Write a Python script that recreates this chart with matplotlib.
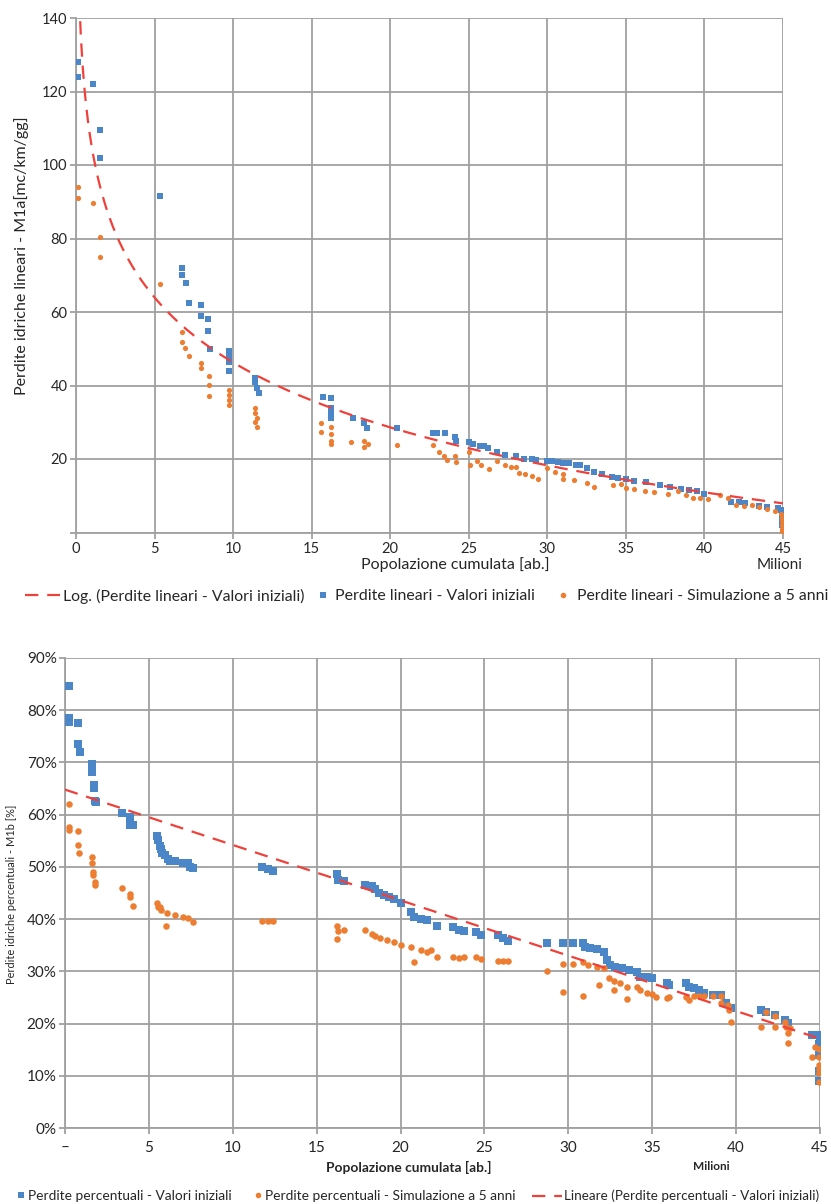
import matplotlib
matplotlib.use("Agg")
import matplotlib.pyplot as plt
import numpy as np
from matplotlib.lines import Line2D
from matplotlib.ticker import FuncFormatter

# ---------------- DATA ----------------
# Top chart: Perdite lineari (M1a) vs popolazione cumulata [milioni]
lin_ini_x = [0.13, 0.13, 1.1, 1.5, 1.5, 5.35, 6.75, 6.75, 7.0, 7.2, 7.96, 7.96, 8.4, 8.4, 8.5,
             9.75, 9.75, 9.75, 9.75, 11.4, 11.4, 11.5, 11.65, 15.7, 16.2, 16.2, 16.2, 16.2,
             17.6, 18.3, 18.5, 20.4, 22.7, 23.0, 23.5, 24.1, 24.2, 25.0, 25.3, 25.7, 26.0, 26.2,
             26.8, 27.3, 28.0, 28.5, 29.0, 29.3, 30.0, 30.3, 30.7, 31.0, 31.4, 31.8, 32.1, 32.5,
             33.0, 33.5, 34.1, 34.5, 35.0, 35.5, 36.3, 37.2, 37.8, 38.5, 39.0, 39.5, 40.0,
             41.7, 42.2, 42.6, 43.5, 44.0, 44.7, 44.9, 44.95, 44.95, 44.95]
lin_ini_y = [128, 124, 122, 109.5, 102, 91.5, 72, 70, 68, 62.5, 62, 59, 58, 54.7, 50,
             49.4, 48, 46.4, 44, 42, 41, 39.3, 38, 37, 36.5, 34, 32.5, 31.2,
             31.2, 29.8, 28.5, 28.4, 27, 27, 27, 26, 24.9, 24.6, 24, 23.5, 23.5, 23,
             22, 21, 20.8, 20, 20, 19.8, 19.5, 19.5, 19.3, 19, 19, 18.5, 18.3, 17.5,
             16.5, 16, 15.2, 14.8, 14.5, 14, 13.7, 12.9, 12.3, 11.8, 11.5, 11.2, 10.5,
             8.3, 8.3, 8, 7.3, 7, 6.8, 6, 4.5, 3, 2]

lin_sim_x = [0.13, 0.13, 1.1, 1.5, 1.5, 5.35, 6.74, 6.74, 6.95, 7.2, 7.96, 7.96, 8.46, 8.46, 8.46,
             9.75, 9.75, 9.75, 9.75, 11.4, 11.4, 11.5, 11.4, 11.5, 15.6, 15.6, 16.2, 16.2, 16.2,
             16.2, 17.5, 18.3, 18.3, 18.6, 20.4, 22.7, 23.1, 23.4, 23.6, 24.1, 24.2, 25.0, 25.1,
             25.5, 25.8, 26.3, 26.8, 27.3, 27.7, 28.0, 28.2, 28.6, 29.0, 29.4, 30.0, 30.5, 31.0,
             31.0, 31.7, 32.5, 33.0, 34.2, 34.7, 35.0, 35.5, 36.2, 36.8, 37.7, 38.3, 38.8, 39.3,
             39.7, 40.2, 41.0, 41.5, 42.0, 42.5, 43.0, 43.5, 44.0, 44.5, 44.9, 44.95, 44.95,
             44.95, 44.95, 44.95]
lin_sim_y = [94, 91, 89.7, 80.5, 75, 67.6, 54.6, 51.9, 50.2, 48, 46.2, 44.8, 42.6, 40.2, 37.2,
             38.8, 37.4, 36, 34.7, 33.9, 32.5, 31.2, 30, 28.7, 29.8, 27.3, 28.7, 26.8, 25,
             24, 24.6, 24.8, 23.3, 24, 23.8, 23.8, 22, 20.7, 19.7, 20.7, 19.3, 22, 18.5,
             19.5, 18.5, 17.3, 19.5, 18.3, 17.7, 17.7, 16.2, 15.8, 15.5, 14.5, 17.5, 16.5, 15.8,
             14.5, 14.3, 13.4, 12.5, 12.8, 13.2, 12, 11.8, 11.4, 11, 10.5, 11.4, 10.2, 9.5,
             9.3, 9, 10.2, 9.3, 7.5, 7.2, 7.4, 7, 6.3, 5.8, 5, 4, 3,
             2, 1, 0.5]

# Log trendline: y = A*ln(x) + B
log_a, log_b = -25.5, 105.0

# Bottom chart: Perdite percentuali (M1b) [%]
pct_ini_x = [0.24, 0.24, 0.24, 0.77, 0.77, 0.9, 1.6, 1.6, 1.75, 1.75, 1.8, 1.85, 3.4, 3.9, 3.9, 4.05,
             5.5, 5.55, 5.65, 5.7, 5.8, 5.97, 6.15, 6.27, 6.57, 7.05, 7.35, 7.46, 7.62,
             11.75, 12.1, 12.4, 16.2, 16.3, 16.6, 17.9, 18.3, 18.5, 18.7, 19.0, 19.3, 19.6,
             20.0, 20.6, 20.8, 21.2, 21.6, 22.2, 23.1, 23.5, 23.8, 24.5, 24.8, 25.8, 26.1, 26.4,
             28.7, 29.7, 30.3, 30.9, 31.0, 31.3, 31.7, 32.1, 32.3, 32.5, 32.8, 33.2, 33.6, 34.1,
             34.3, 34.7, 35.0, 35.9, 36.0, 37.0, 37.2, 37.5, 37.8, 38.1, 38.6, 39.1, 39.4, 39.7,
             41.5, 41.8, 42.3, 42.9, 43.1, 44.5, 44.9, 45.0, 44.95, 44.95, 44.95, 44.95]
pct_ini_y = [84.6, 78.5, 77.7, 77.5, 73.5, 72, 69.7, 68.2, 65.6, 65.2, 62.7, 62.4, 60.3, 59.5, 58, 58,
             56, 55.1, 54, 53.5, 52.7, 52.2, 51.6, 51.2, 51.2, 50.7, 50.7, 50, 49.7,
             49.9, 49.6, 49.3, 48.6, 47.5, 47.3, 46.5, 46.3, 45.7, 45, 44.6, 44.2, 43.8,
             43, 41.3, 40.5, 40.1, 39.8, 38.7, 38.4, 37.9, 37.7, 37.5, 37, 37, 36.3, 35.8,
             35.4, 35.4, 35.4, 35.4, 34.6, 34.4, 34.2, 33.7, 32.2, 31.2, 30.8, 30.6, 30.3, 29.9,
             28.9, 28.9, 28.7, 27.7, 27.4, 27.7, 27, 26.8, 26.4, 25.8, 25.5, 25.5, 23.9, 23,
             22.6, 22.2, 21.6, 20.7, 20.1, 17.8, 17.8, 17.2, 16, 14, 11, 9]

pct_sim_x = [0.25, 0.25, 0.25, 0.77, 0.77, 0.85, 1.6, 1.6, 1.65, 1.65, 1.8, 1.8, 3.4, 3.9, 3.9, 4.05,
             5.5, 5.55, 5.65, 5.75, 6.06, 6.0, 6.57, 7.05, 7.35, 7.6, 11.75, 12.1, 12.4,
             16.2, 16.3, 16.2, 16.6, 17.9, 18.3, 18.5, 18.8, 19.2, 19.6, 20.0, 20.6, 20.8, 21.2,
             21.6, 21.8, 22.2, 23.1, 23.5, 23.8, 24.5, 24.8, 25.8, 26.1, 26.4, 28.7, 29.7, 29.7,
             30.3, 30.9, 30.9, 31.2, 31.7, 31.8, 32.1, 32.4, 32.7, 32.7, 33.1, 33.5, 33.5, 34.1,
             34.3, 34.7, 35.0, 35.2, 35.9, 36.0, 37.0, 37.2, 37.5, 37.8, 38.1, 38.6, 39.1, 39.1,
             39.5, 39.6, 39.7, 41.5, 41.8, 42.3, 42.3, 42.9, 43.0, 43.1, 43.1, 43.2, 44.5, 44.7,
             44.95, 44.95, 44.95, 44.95, 44.95, 44.95]
pct_sim_y = [62, 57.6, 57.1, 56.8, 54.2, 52.6, 51.8, 50.7, 49, 48.4, 47.1, 46.5, 45.9, 44.8, 44.3, 42.5,
             43, 42.3, 42.3, 41.7, 41.1, 38.7, 40.8, 40.4, 40.2, 39.5, 39.6, 39.6, 39.6,
             38.6, 37.8, 36.2, 38.0, 38, 37.2, 36.8, 36.4, 36, 35.6, 35, 34.6, 31.8, 34,
             33.7, 34, 32.7, 32.7, 32.5, 32.7, 32.7, 32.4, 32, 32, 32, 30, 31.5, 26,
             31.5, 31.8, 25.3, 31.2, 30.8, 27.4, 30.6, 28.7, 28.1, 26.4, 27.7, 27, 24.7, 27,
             26.4, 25.8, 25.6, 25.1, 24.9, 25.1, 25.1, 24.5, 25.3, 25.3, 25.3, 25.3, 25.3, 24,
             23.5, 22.6, 20.3, 19.3, 22.2, 21.4, 19.3, 20.3, 19.3, 18.2, 16.3, 19.1, 13.6, 15.5,
             15.1, 13.6, 12.1, 11.3, 10.5, 8.8]

# Linear trendline: y = M*x + Q  (percent)
lin_m, lin_q = -1.06, 64.8

# Ticks
top_xticks = [0, 5, 10, 15, 20, 25, 30, 35, 40, 45]
top_yticks = [0, 20, 40, 60, 80, 100, 120, 140]
bot_xticks = [0, 5, 10, 15, 20, 25, 30, 35, 40, 45]
bot_yticks = [0, 10, 20, 30, 40, 50, 60, 70, 80, 90]

# ---------------- STYLE ----------------
W, H = 831, 1204
FAM = ['Lato', 'DejaVu Sans']
plt.rcParams['font.family'] = FAM
BLUE = '#4A86C8'
ORANGE = '#ED7D31'
RED = '#F0403A'
GRID = '#A0A0A0'
TXT = '#262626'

fig = plt.figure(figsize=(W / 100, H / 100), dpi=100)


def px_rect(l, t, r, b):
    return [l / W, 1 - b / H, (r - l) / W, (b - t) / H]


def style_axes(ax):
    ax.grid(True, color=GRID, lw=1.3)
    ax.set_axisbelow(True)
    for s in ['top', 'right']:
        ax.spines[s].set_visible(False)
    for s in ['left', 'bottom']:
        ax.spines[s].set_color(GRID)
        ax.spines[s].set_linewidth(1.3)
    ax.tick_params(colors=GRID, labelcolor=TXT, width=1.3, length=4)


# ---------- Top chart ----------
ax1 = fig.add_axes(px_rect(76, 18, 783, 532.5))
style_axes(ax1)
ax1.scatter(lin_ini_x, lin_ini_y, marker='s', s=20, color=BLUE, linewidths=0, zorder=3)
ax1.scatter(lin_sim_x, lin_sim_y, marker='o', s=14, color=ORANGE, linewidths=0, zorder=4)
xt = np.linspace(0.2, 45, 400)
ax1.plot(xt, log_a * np.log(xt) + log_b, color=RED, lw=1.6, dashes=(6, 4), zorder=5)
ax1.set_xlim(0, 45)
ax1.set_ylim(0, 140)
ax1.set_xticks(top_xticks)
ax1.set_yticks(top_yticks)
ax1.set_yticklabels([''] + [str(v) for v in top_yticks[1:]])
ax1.tick_params(axis='both', labelsize=10.5)
ax1.tick_params(axis='y', pad=2)
ax1.tick_params(axis='x', pad=3)

fig.text(455 / W, 1 - 565 / H, 'Popolazione cumulata [ab.]', ha='center', va='center',
         fontsize=11.5, color=TXT)
fig.text(780 / W, 1 - 565 / H, 'Milioni', ha='center', va='center', fontsize=11, color=TXT)
fig.text(22 / W, 1 - 256 / H, 'Perdite idriche lineari - M1a[mc/km/gg]', ha='center',
         va='center', rotation=90, fontsize=11.5, color=TXT)

# ---------- Bottom chart ----------
ax2 = fig.add_axes(px_rect(65, 658, 820, 1128))
style_axes(ax2)
ax2.scatter(pct_ini_x, pct_ini_y, marker='s', s=26, color=BLUE, linewidths=0, zorder=3)
ax2.scatter(pct_sim_x, pct_sim_y, marker='o', s=22, color=ORANGE, linewidths=0, zorder=4)
xl = np.array([0, 45])
ax2.plot(xl, lin_m * xl + lin_q, color=RED, lw=1.6, dashes=(6, 4), zorder=5)
ax2.set_xlim(0, 45)
ax2.set_ylim(0, 90)
ax2.set_xticks(bot_xticks)
ax2.set_xticklabels(['–'] + [str(v) for v in bot_xticks[1:]])
ax2.set_yticks(bot_yticks)
ax2.yaxis.set_major_formatter(FuncFormatter(lambda v, p: f'{v:.0f}%'))
ax2.tick_params(axis='both', labelsize=11)
ax2.tick_params(axis='y', pad=2)
ax2.tick_params(axis='x', pad=5)

fig.text(409 / W, 1 - 1167 / H, 'Popolazione cumulata [ab.]', ha='center', va='center',
         fontsize=9.9, fontweight='bold', color=TXT)
fig.text(711 / W, 1 - 1167 / H, 'Milioni', ha='center', va='center', fontsize=8.5,
         fontweight='bold', color=TXT)
fig.text(12 / W, 1 - 894 / H, 'Perdite idriche percentuali - M1b [%]', ha='center',
         va='center', rotation=90, fontsize=7.9, color=TXT)


# ---------- Legends ----------
def add_leg(handle, label, x_px, y_px, hl_px, pad_px, fs, weight='normal'):
    fs_px = fs * 100 / 72
    fig.legend([handle], [label], loc='center left',
               bbox_to_anchor=(x_px / W, 1 - y_px / H), frameon=False,
               borderpad=0, borderaxespad=0, handlelength=hl_px / fs_px,
               handletextpad=pad_px / fs_px,
               prop={'family': FAM, 'size': fs, 'weight': weight}, labelcolor=TXT)


red_h = Line2D([], [], color=RED, lw=1.6, dashes=(6, 4))
blue_h = Line2D([], [], ls='none', marker='s', color=BLUE, markersize=4.5, markeredgewidth=0)
orange_h = Line2D([], [], ls='none', marker='o', color=ORANGE, markersize=4, markeredgewidth=0)

add_leg(red_h, 'Log. (Perdite lineari - Valori iniziali)', 25, 596, 35, 3, 11.4)
add_leg(blue_h, 'Perdite lineari - Valori iniziali', 318, 596, 10, 7, 11.4)
add_leg(orange_h, 'Perdite lineari - Simulazione a 5 anni', 558, 596, 10, 9, 11.3)

add_leg(blue_h, 'Perdite percentuali - Valori iniziali', 16, 1196, 10, 2, 9.9)
add_leg(orange_h, 'Perdite percentuali - Simulazione a 5 anni', 253, 1196, 10, 2, 9.9)
add_leg(red_h, 'Lineare (Perdite percentuali - Valori iniziali)', 532, 1196, 30, 2, 9.7)

fig.savefig('out.png', dpi=100)
